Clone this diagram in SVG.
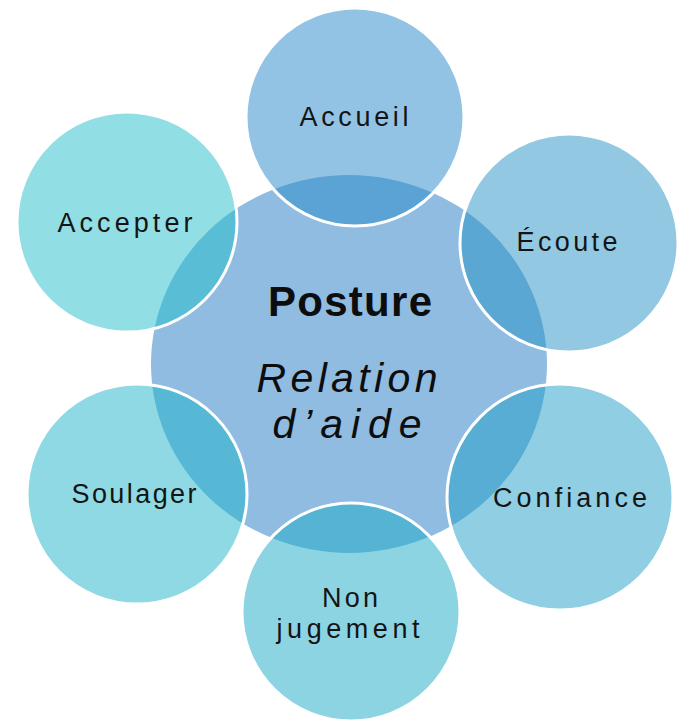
<svg xmlns="http://www.w3.org/2000/svg" width="680" height="721" viewBox="0 0 680 721">
<style>
.outer{stroke:#ffffff;stroke-width:3;fill-opacity:0.5}
.lbl{font-family:"Liberation Sans","DejaVu Sans",sans-serif;font-size:27px;fill:#141414;text-anchor:middle}
.ctr{font-family:"Liberation Sans","DejaVu Sans",sans-serif;fill:#0d0d0d;text-anchor:middle}
</style>
<rect width="680" height="721" fill="#ffffff"/>
<g id="center">
<ellipse cx="349" cy="364" rx="198" ry="189" fill="#8FBCE0"/>
</g>
<g id="accueil">
<circle class="outer" cx="355" cy="117" r="109" fill="#2787C9"/>
<text class="lbl" x="354" y="126" textLength="109">Accueil</text>
</g>
<g id="ecoute">
<circle class="outer" cx="569" cy="243" r="109" fill="#2791C5"/>
<text class="lbl" x="567" y="251" textLength="101">Écoute</text>
</g>
<g id="confiance">
<circle class="outer" cx="560" cy="497" r="113" fill="#1F9DC7"/>
<text class="lbl" x="570" y="507" textLength="154">Confiance</text>
</g>
<g id="nonjugement">
<circle class="outer" cx="351" cy="612" r="109" fill="#1BA9C7"/>
<text class="lbl" x="350" y="607" textLength="56">Non</text>
<text class="lbl" x="348" y="638" textLength="143">jugement</text>
</g>
<g id="soulager">
<circle class="outer" cx="137" cy="494" r="110" fill="#1FB3C9"/>
<text class="lbl" x="134" y="503" textLength="125">Soulager</text>
</g>
<g id="accepter">
<circle class="outer" cx="127" cy="222" r="110" fill="#25BDCB"/>
<text class="lbl" x="125" y="232" textLength="135">Accepter</text>
</g>
<g id="center-text">
<text class="ctr" x="350" y="316" font-size="42" font-weight="bold" textLength="164">Posture</text>
<text class="ctr" x="347" y="392" font-size="41" font-style="italic" textLength="181">Relation</text>
<text class="ctr" x="347" y="438" font-size="41" font-style="italic" textLength="149">d’aide</text>
</g>
<g id="connectors"></g>
</svg>
